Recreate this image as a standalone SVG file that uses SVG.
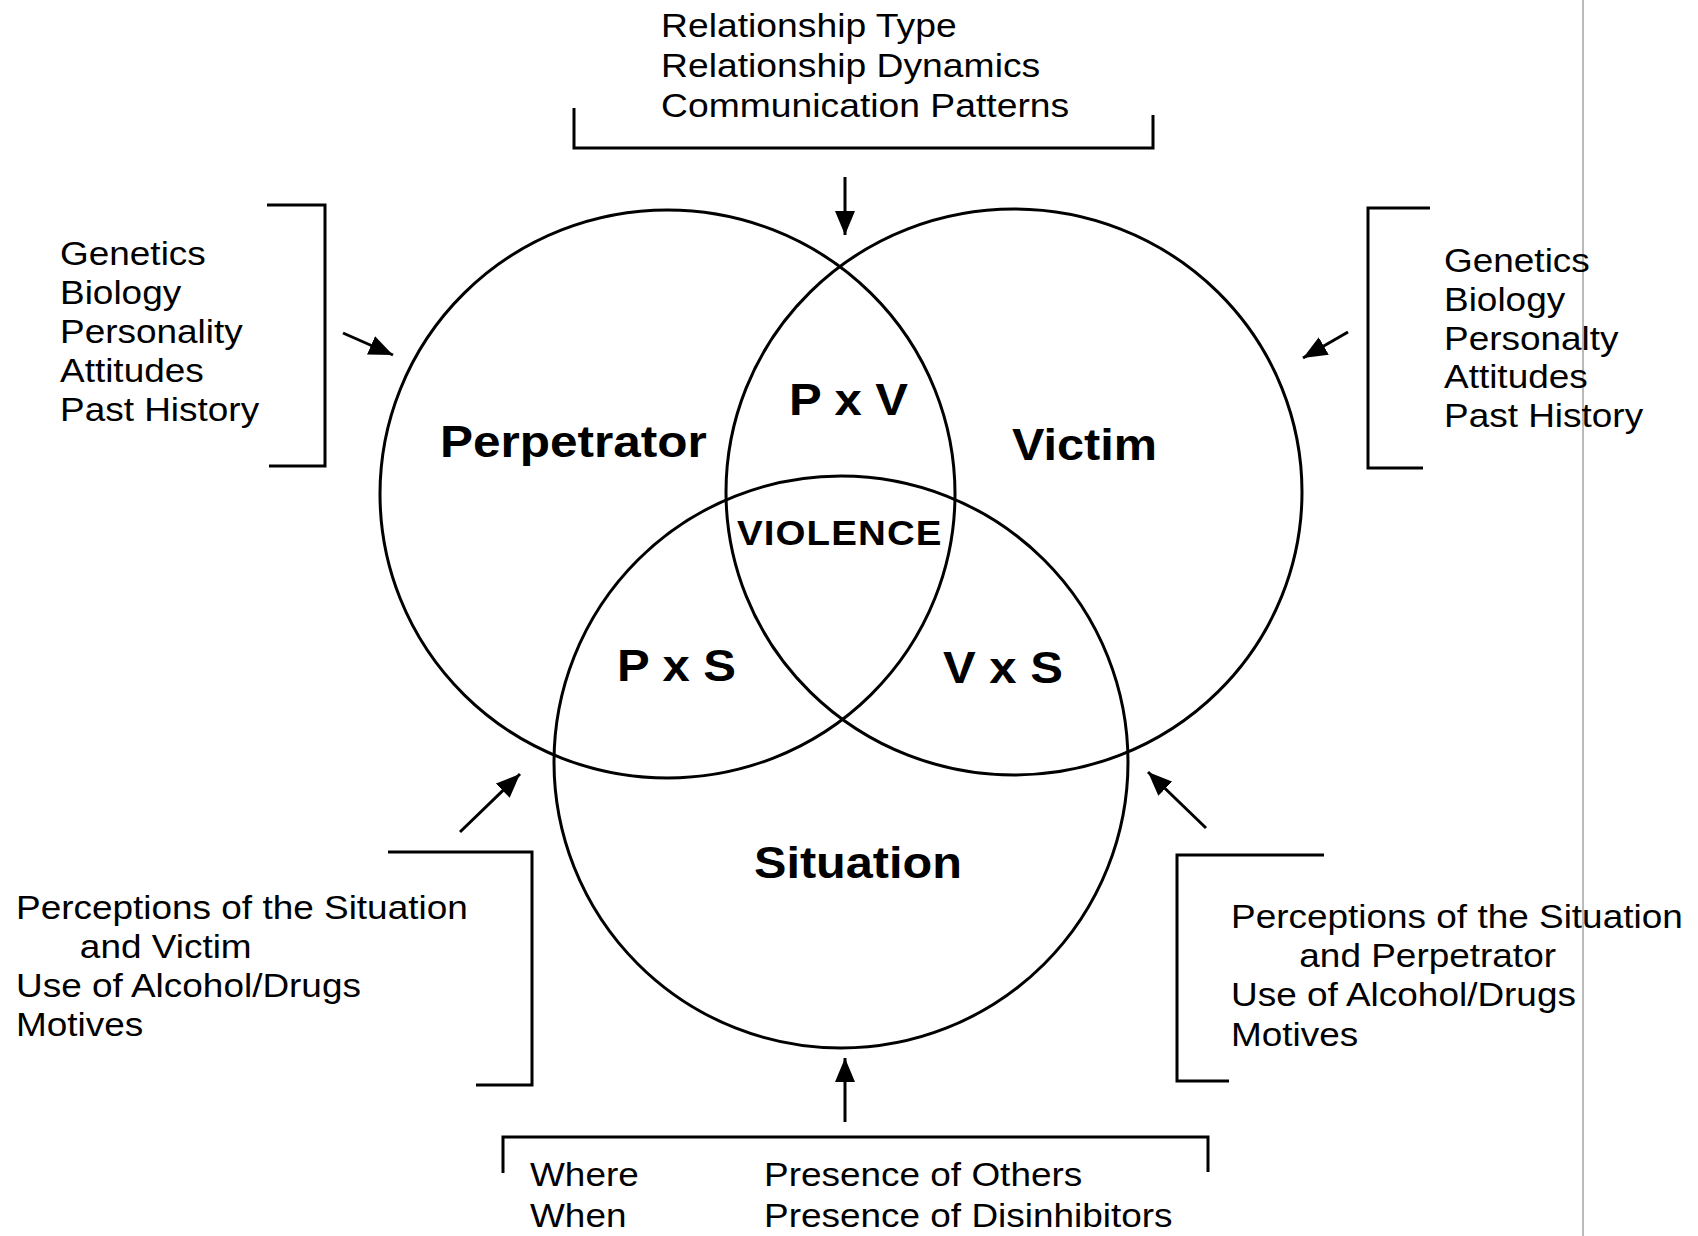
<svg xmlns="http://www.w3.org/2000/svg" width="1698" height="1236" viewBox="0 0 1698 1236">
<defs>
<style>
.c{fill:none;stroke:#000;stroke-width:3}
.br{fill:none;stroke:#000;stroke-width:3}
.t{font-family:"Liberation Sans",Arial,Helvetica,sans-serif;font-size:33px;fill:#000}
.b{font-family:"Liberation Sans",Arial,Helvetica,sans-serif;font-size:45px;font-weight:bold;fill:#000}
.v{font-family:"Liberation Sans",Arial,Helvetica,sans-serif;font-size:35px;font-weight:bold;letter-spacing:1px;fill:#000}
.a{fill:none;stroke:#000;stroke-width:3;marker-end:url(#ah)}
</style>
<marker id="ah" viewBox="0 0 24 20" refX="24" refY="10" markerWidth="24" markerHeight="20" markerUnits="userSpaceOnUse" orient="auto">
<path d="M0,0 L24,10 L0,20 z" fill="#000"/>
</marker>
</defs>
<rect width="1698" height="1236" fill="#fff"/>
<line x1="1583" y1="0" x2="1583" y2="1236" stroke="#777" stroke-width="1"/>

<g id="perpetrator">
<ellipse class="c" cx="667.5" cy="494" rx="287.5" ry="284"/>
<g transform="translate(440,457) scale(1.1,1)"><text class="b" x="0" y="0">Perpetrator</text></g>
</g>
<g id="victim">
<ellipse class="c" cx="1014" cy="492" rx="288" ry="283"/>
<g transform="translate(1012,460) scale(1.08,1)"><text class="b" x="0" y="0">Victim</text></g>
</g>
<g id="situation">
<ellipse class="c" cx="841" cy="762" rx="287" ry="286"/>
<g transform="translate(754,878) scale(1.08,1)"><text class="b" x="0" y="0">Situation</text></g>
</g>
<g id="pxv"><g transform="translate(789,415) scale(1.09,1)"><text class="b" x="0" y="0">P x V</text></g></g>
<g id="violence"><g transform="translate(737,545) scale(1.1,1)"><text class="v" x="0" y="0">VIOLENCE</text></g></g>
<g id="pxs"><g transform="translate(617,681) scale(1.09,1)"><text class="b" x="0" y="0">P x S</text></g></g>
<g id="vxs"><g transform="translate(943,683) scale(1.09,1)"><text class="b" x="0" y="0">V x S</text></g></g>

<g id="relationship-factors">
<path class="br" d="M574,108 V148 H1153 V115"/>
<g transform="translate(661,0) scale(1.13,1)" class="t">
<text x="0" y="37">Relationship Type</text>
<text x="0" y="77">Relationship Dynamics</text>
<text x="0" y="117">Communication Patterns</text>
</g>
</g>

<g id="perpetrator-factors">
<path class="br" d="M267,205 H325 V466 H269"/>
<g transform="translate(60,0) scale(1.12,1)" class="t">
<text x="0" y="265">Genetics</text>
<text x="0" y="304">Biology</text>
<text x="0" y="343">Personality</text>
<text x="0" y="382">Attitudes</text>
<text x="0" y="421">Past History</text>
</g>
</g>

<g id="victim-factors">
<path class="br" d="M1430,208 H1368 V468 H1423"/>
<g transform="translate(1444,0) scale(1.12,1)" class="t">
<text x="0" y="272">Genetics</text>
<text x="0" y="311">Biology</text>
<text x="0" y="350">Personalty</text>
<text x="0" y="388">Attitudes</text>
<text x="0" y="427">Past History</text>
</g>
</g>

<g id="perpetrator-situation-factors">
<path class="br" d="M388,852 H532 V1085 H476"/>
<g transform="translate(16,0) scale(1.12,1)" class="t">
<text x="0" y="919">Perceptions of the Situation</text>
<text x="57" y="958">and Victim</text>
<text x="0" y="997">Use of Alcohol/Drugs</text>
<text x="0" y="1036">Motives</text>
</g>
</g>

<g id="victim-situation-factors">
<path class="br" d="M1324,855 H1177 V1081 H1229"/>
<g transform="translate(1231,0) scale(1.12,1)" class="t">
<text x="0" y="928">Perceptions of the Situation</text>
<text x="61" y="967">and Perpetrator</text>
<text x="0" y="1006">Use of Alcohol/Drugs</text>
<text x="0" y="1046">Motives</text>
</g>
</g>

<g id="situation-factors">
<path class="br" d="M503,1173 V1137 H1208 V1172"/>
<g transform="translate(530,0) scale(1.12,1)" class="t">
<text x="0" y="1186">Where</text>
<text x="0" y="1227">When</text>
</g>
<g transform="translate(764,0) scale(1.12,1)" class="t">
<text x="0" y="1186">Presence of Others</text>
<text x="0" y="1227">Presence of Disinhibitors</text>
</g>
</g>

<g id="connectors">
<path class="a" d="M845,177 L845,235"/>
<path class="a" d="M343,333 L393,355"/>
<path class="a" d="M1348,332 L1303,358"/>
<path class="a" d="M460,832 L520,774"/>
<path class="a" d="M1206,828 L1148,772"/>
<path class="a" d="M845,1122 L845,1058"/>
</g>
</svg>
